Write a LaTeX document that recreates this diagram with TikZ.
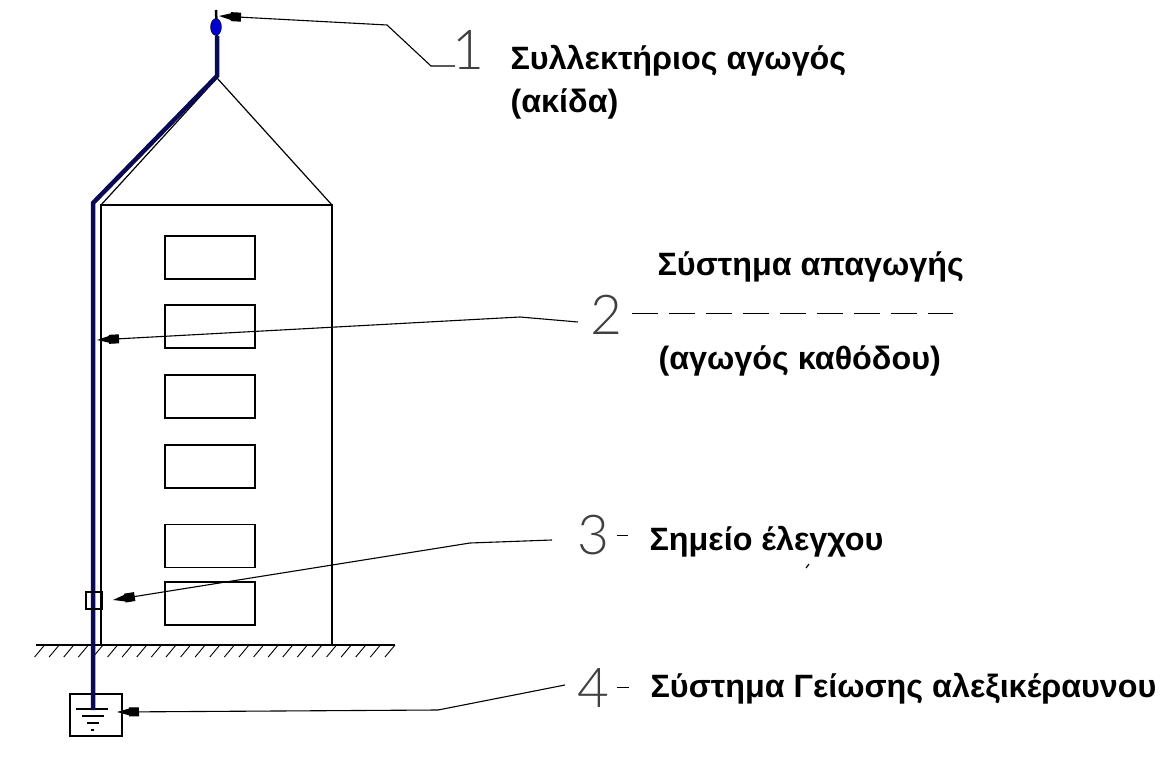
\documentclass[tikz,border=0pt]{standalone}
\usepackage{fontspec}
\usepackage{tikz}
\setmainfont{Liberation Sans}
\newfontfamily\digitfont{Lato Light}
\usetikzlibrary{arrows.meta,positioning,shapes.geometric}

\definecolor{rodblue}{HTML}{0A0A55}

\begin{document}
\begin{tikzpicture}[
        x=1pt, y=-1pt,
        every path/.style={line width=1.2pt},
        windowbox/.style={draw, minimum width=90pt, minimum height=43pt, inner sep=0pt},
        caption/.style={font=\fontsize{32.3}{43}\selectfont\bfseries, anchor=west, align=left, inner sep=0pt},
        digit/.style={font=\digitfont\fontsize{55}{55}\selectfont, inner sep=0pt, text=black!75},
        leader/.style={draw, line width=1.1pt, -{Square[length=10pt,width=9pt,sep=-1pt]Stealth[length=13pt,width=7pt,inset=0pt]}},
        rod/.style={draw=rodblue, line width=4.5pt, line join=miter}
    ]
    \useasboundingbox (0,0) rectangle (1171,760);

    % Building
    \draw (101,645) -- (101,205) -- (332,205) -- (332,645);
    \draw (101,205) -- (217,78) -- (332,205);
    \foreach \name/\y in {a/257.5, b/326.5, c/396.5, d/466.5, e/546, f/603.5}
      \node[windowbox] (win\name) at (210,\y) {};

    % Ground
    \draw (36,645) -- (395,645);
    \foreach \k in {0,...,24}
      \draw[line width=0.9pt] (395-14.6*\k,645) -- ++(-10,12);

    % Earth pit
    \node[draw, minimum width=52pt, minimum height=42pt, inner sep=0pt] (pit) at (96,715) {};
    \draw[line width=1.4pt] (76,709) -- (108,709);
    \draw[line width=1.4pt] (82,716) -- (104,716);
    \draw[line width=1.4pt] (87,723) -- (99,723);
    \draw[line width=1.4pt] (91,730) -- (94,730);

    % Conductor
    \coordinate (rodtip) at (216,10);
    \coordinate (rodfoot) at (93,710);
    \draw[rod] (rodfoot) -- (93,203) -- (217,76) -- (217,36);
    \draw[black, line width=2.5pt] (217,36) -- (rodtip);
    \node[draw=black, fill=blue!80!black, ellipse, minimum width=11pt, minimum height=17pt, inner sep=0pt, line width=0.3pt] (bulb) at (216,27) {};

    % Test point
    \node[draw, minimum width=16pt, minimum height=17pt, inner sep=0pt] (testbox) at (94,600.5) {};

    % Digits
    \node[digit] (num1) at (468,50) {1};
    \node[digit] (num2) at (606,315) {2};
    \node[digit] (num3) at (593,535) {3};
    \node[digit] (num4) at (593,688) {4};

    % Leaders
    \coordinate (end1) at (219,16);
    \coordinate (end2) at (97,340);
    \coordinate (end3) at (113,600);
    \coordinate (end4) at (117,712);
    \coordinate (from1) at (455,66);
    \coordinate (from2) at (578,322);
    \coordinate (from3) at (552,540);
    \coordinate (from4) at (565,685);
    \draw[leader] (from1) -- (431,66) -- (387,25) -- (end1);
    \draw[leader] (from2) -- (520,317) -- (end2);
    \draw[leader] (from3) -- (470,543) -- (end3);
    \draw[leader] (from4) -- (438,710) -- (end4);

    % Dashes
    \coordinate (dash2) at (953,313);
    \draw[line width=1pt, dash pattern=on 26pt off 11pt] (632,313) -- (dash2);
    \draw[line width=1pt] (617,535) -- (628,535);
    \draw[line width=1pt] (617,687) -- (629,687);

    % Captions
    \node[caption] (cap1) at (510,82) {Συλλεκτήριος αγωγός\\(ακίδα)};
    \node[caption] (cap2a) at (657,267) {Σύστημα απαγωγής};
    \node[caption] (cap2b) at (658,361) {(αγωγός καθόδου)};
    \node[caption] (cap3) at (649,542) {Σημείο έλεγχου};
    \node[caption] (cap4) at (650,689) {Σύστημα Γείωσης αλεξικέραυνου};
    \draw[line width=1.2pt] (806,568) -- (809,564);
\end{tikzpicture}
\end{document}
